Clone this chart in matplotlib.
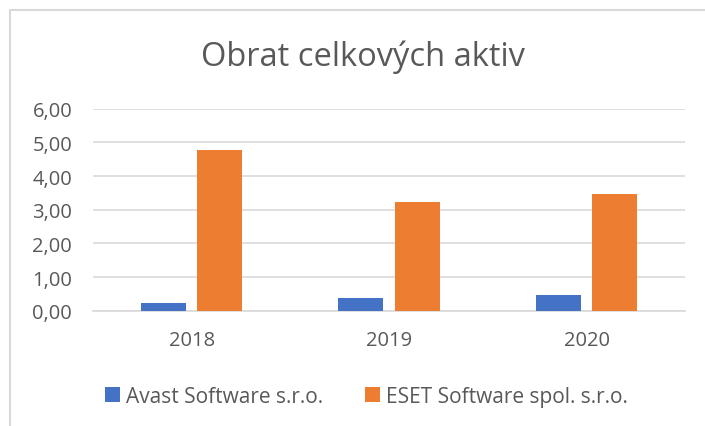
import numpy as np
import matplotlib
matplotlib.use("Agg")
import matplotlib.pyplot as plt
from matplotlib.patches import Rectangle

years = ["2018", "2019", "2020"]
avast = [0.23, 0.38, 0.46]
eset = [4.78, 3.24, 3.48]
series_names = ["Avast Software s.r.o.", "ESET Software spol. s.r.o."]
yticks = [0, 1, 2, 3, 4, 5, 6]

plt.rcParams["font.family"] = ["Open Sans", "DejaVu Sans"]
TEXT = "#595959"

fig = plt.figure(figsize=(7.05, 4.27), dpi=100)
ax = fig.add_axes([0.132, 0.27, 0.84, 0.473])

x = np.arange(len(years))
w = 0.228
ax.bar(x - 0.143, avast, w, color="#4472C4", label=series_names[0], zorder=3)
ax.bar(x + 0.143, eset, w, color="#ED7D31", label=series_names[1], zorder=3)

ax.set_xlim(-0.5, 2.5)
ax.set_ylim(0, 6)
ax.set_yticks(yticks)
ax.set_yticklabels([f"{v:.2f}".replace(".", ",") for v in yticks])
ax.set_xticks(x)
ax.set_xticklabels(years)
ax.tick_params(length=0, labelsize=14.5, colors=TEXT)
ax.tick_params(axis="y", pad=15)
ax.tick_params(axis="x", pad=14)
ax.grid(axis="y", color="#D9D9D9", linewidth=1.2, zorder=0)
for s in ["top", "right", "left"]:
    ax.spines[s].set_visible(False)
ax.spines["bottom"].set_color("#D9D9D9")
ax.spines["bottom"].set_linewidth(1.2)

fig.text(0.515, 0.866, "Obrat celkových aktiv", ha="center", va="center",
         fontsize=23.5, color=TEXT)

fig.legend(loc="center", bbox_to_anchor=(0.52, 0.07), ncol=2, frameon=False,
           fontsize=15, handlelength=0.72, handleheight=0.72, columnspacing=2.0,
           handletextpad=0.3, labelcolor=TEXT)

# chart frame (left and top edges visible)
fig.patches.append(Rectangle((0.014, -0.01), 1.0, 0.984, transform=fig.transFigure,
                             fill=False, edgecolor="#D9D9D9", linewidth=1.5))

fig.savefig("out.png", dpi=100)
